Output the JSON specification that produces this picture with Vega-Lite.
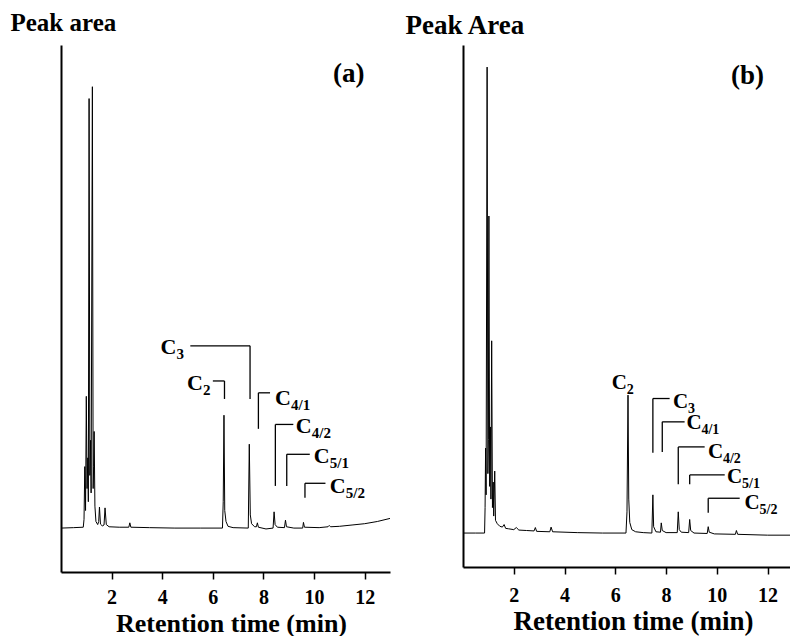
{
  "$schema": "https://vega.github.io/schema/vega-lite/v6.json",
  "background": "white",
  "padding": {"left": 10, "top": 10, "right": 0, "bottom": 0},
  "spacing": 73,
  "bounds": "flush",
  "config": {
    "view": {"stroke": null},
    "axis": {"labelFont": "Liberation Serif", "titleFont": "Liberation Serif", "labelFontWeight": "bold", "titleFontWeight": "bold", "labelColor": "black", "titleColor": "black", "domainColor": "black", "tickColor": "black", "grid": false, "domainWidth": 2, "tickWidth": 1.5},
    "text": {"font": "Liberation Serif", "fontWeight": "bold", "color": "black"}
  },
  "datasets": {
    "traceA": [
      {"t":0,"v":0},{"t":0.5,"v":0.1},{"t":0.88,"v":0.2},{"t":0.91,"v":2},{"t":0.94,"v":14},{"t":0.97,"v":4},{"t":1.0,"v":30},{"t":1.03,"v":9},{"t":1.06,"v":16},{"t":1.08,"v":6},{"t":1.11,"v":97.8},{"t":1.14,"v":12},{"t":1.17,"v":20},{"t":1.19,"v":8},{"t":1.24,"v":100.5},{"t":1.27,"v":9},{"t":1.29,"v":14},{"t":1.31,"v":22},{"t":1.34,"v":5},{"t":1.38,"v":1.5},{"t":1.45,"v":0.8},{"t":1.49,"v":1.5},{"t":1.52,"v":4.8},{"t":1.56,"v":0.9},{"t":1.63,"v":0.5},{"t":1.7,"v":0.7},{"t":1.74,"v":4.6},{"t":1.79,"v":0.8},{"t":1.9,"v":0.3},{"t":2.3,"v":0.2},{"t":2.68,"v":0.2},{"t":2.72,"v":1.2},{"t":2.76,"v":0.2},{"t":3.5,"v":0.1},{"t":4.5,"v":0},{"t":5.5,"v":0},{"t":6.38,"v":0},{"t":6.41,"v":6},{"t":6.44,"v":25.7},{"t":6.47,"v":4},{"t":6.52,"v":1.5},{"t":6.6,"v":0.4},{"t":6.8,"v":0.1},{"t":7.4,"v":0},{"t":7.44,"v":19.1},{"t":7.48,"v":3},{"t":7.53,"v":1},{"t":7.65,"v":0.3},{"t":7.72,"v":0.3},{"t":7.76,"v":1.2},{"t":7.8,"v":0.2},{"t":8.1,"v":-0.2},{"t":8.38,"v":0},{"t":8.42,"v":3.7},{"t":8.46,"v":0.8},{"t":8.55,"v":0.2},{"t":8.83,"v":0.1},{"t":8.87,"v":1.8},{"t":8.91,"v":0.3},{"t":9.2,"v":0},{"t":9.55,"v":0},{"t":9.58,"v":1.3},{"t":9.62,"v":0.2},{"t":10.2,"v":0.1},{"t":10.55,"v":0.3},{"t":10.6,"v":0.6},{"t":10.65,"v":0.3},{"t":11.0,"v":0.4},{"t":11.5,"v":0.7},{"t":12.0,"v":1.0},{"t":12.5,"v":1.5},{"t":13.0,"v":2.2}
    ],
    "traceB": [
      {"t":0,"v":0},{"t":0.5,"v":0},{"t":0.85,"v":0},{"t":0.87,"v":6},{"t":0.89,"v":20},{"t":0.91,"v":9},{"t":0.95,"v":109.8},{"t":0.98,"v":14},{"t":1.0,"v":22},{"t":1.02,"v":74.7},{"t":1.05,"v":11},{"t":1.08,"v":25},{"t":1.1,"v":8},{"t":1.13,"v":45.3},{"t":1.16,"v":6},{"t":1.19,"v":12},{"t":1.21,"v":4},{"t":1.25,"v":14.6},{"t":1.28,"v":3},{"t":1.35,"v":2.2},{"t":1.45,"v":1.6},{"t":1.55,"v":1.4},{"t":1.62,"v":2.0},{"t":1.68,"v":1.1},{"t":1.8,"v":1.0},{"t":2.0,"v":0.8},{"t":2.1,"v":1.3},{"t":2.2,"v":0.7},{"t":2.5,"v":0.6},{"t":2.8,"v":0.5},{"t":2.85,"v":1.3},{"t":2.9,"v":0.4},{"t":3.42,"v":0.3},{"t":3.47,"v":1.4},{"t":3.53,"v":0.3},{"t":4.5,"v":0.1},{"t":5.5,"v":0},{"t":6.42,"v":0},{"t":6.46,"v":5},{"t":6.5,"v":32.5},{"t":6.53,"v":8},{"t":6.57,"v":2.5},{"t":6.65,"v":0.8},{"t":6.8,"v":0.3},{"t":7.1,"v":0.1},{"t":7.44,"v":0},{"t":7.48,"v":9},{"t":7.51,"v":1.5},{"t":7.6,"v":0.3},{"t":7.78,"v":0.2},{"t":7.81,"v":2.4},{"t":7.85,"v":0.6},{"t":8.0,"v":0.1},{"t":8.44,"v":0.1},{"t":8.48,"v":5.0},{"t":8.52,"v":0.8},{"t":8.6,"v":0.2},{"t":8.89,"v":0.1},{"t":8.93,"v":3.2},{"t":8.97,"v":0.6},{"t":9.1,"v":0},{"t":9.62,"v":-0.1},{"t":9.66,"v":1.5},{"t":9.7,"v":0.2},{"t":9.9,"v":-0.2},{"t":10.73,"v":-0.3},{"t":10.77,"v":0.6},{"t":10.82,"v":-0.3},{"t":12,"v":-0.5},{"t":13,"v":-0.5}
    ],
    "bracketsA": [
      {"x1":5.11,"y1":41.5,"x2":7.47,"y2":41.5},{"x1":7.47,"y1":41.5,"x2":7.47,"y2":29.4},
      {"x1":6.0,"y1":33.5,"x2":6.46,"y2":33.5},{"x1":6.46,"y1":33.5,"x2":6.46,"y2":29.4},
      {"x1":7.8,"y1":30.8,"x2":8.26,"y2":30.8},{"x1":7.8,"y1":30.8,"x2":7.8,"y2":22.6},
      {"x1":8.47,"y1":23.6,"x2":9.18,"y2":23.6},{"x1":8.47,"y1":23.6,"x2":8.47,"y2":9.6},
      {"x1":8.92,"y1":16.8,"x2":9.83,"y2":16.8},{"x1":8.92,"y1":16.8,"x2":8.92,"y2":9.6},
      {"x1":9.64,"y1":10.2,"x2":10.45,"y2":10.2},{"x1":9.64,"y1":10.2,"x2":9.64,"y2":6.9}
    ],
    "bracketsB": [
      {"x1":7.48,"y1":31.7,"x2":8.14,"y2":31.7},{"x1":7.48,"y1":31.7,"x2":7.48,"y2":18.9},
      {"x1":7.85,"y1":26.2,"x2":8.73,"y2":26.2},{"x1":7.85,"y1":26.2,"x2":7.85,"y2":19.1},
      {"x1":8.48,"y1":20.3,"x2":9.52,"y2":20.3},{"x1":8.48,"y1":20.3,"x2":8.48,"y2":11.5},
      {"x1":8.93,"y1":13.7,"x2":10.31,"y2":13.7},{"x1":8.93,"y1":13.7,"x2":8.93,"y2":11.5},
      {"x1":9.66,"y1":8.2,"x2":10.9,"y2":8.2},{"x1":9.66,"y1":8.2,"x2":9.66,"y2":4.8}
    ],
    "labelsA": [
      {"x":3.93,"y":39.6,"main":"C","sub":"3"},
      {"x":4.98,"y":31.4,"main":"C","sub":"2"},
      {"x":8.46,"y":28.0,"main":"C","sub":"4/1"},
      {"x":9.28,"y":21.6,"main":"C","sub":"4/2"},
      {"x":9.99,"y":14.9,"main":"C","sub":"5/1"},
      {"x":10.62,"y":8.0,"main":"C","sub":"5/2"}
    ],
    "labelsB": [
      {"x":5.86,"y":34.0,"main":"C","sub":"2"},
      {"x":8.27,"y":29.5,"main":"C","sub":"3"},
      {"x":8.8,"y":24.5,"main":"C","sub":"4/1"},
      {"x":9.65,"y":17.7,"main":"C","sub":"4/2"},
      {"x":10.4,"y":11.8,"main":"C","sub":"5/1"},
      {"x":11.09,"y":5.7,"main":"C","sub":"5/2"}
    ],
    "tagA": [{"x":11.37,"y":101.6,"tag":"(a)"}],
    "tagB": [{"x":11.21,"y":105.8,"tag":"(b)"}]
  },
  "hconcat": [
    {
      "width": 329,
      "height": 527,
      "layer": [
        {
          "data": {"name": "traceA"},
          "mark": {"type": "line", "color": "black", "strokeWidth": 1},
          "encoding": {
            "x": {"field": "t", "type": "quantitative", "scale": {"domain": [0, 13], "nice": false},
              "axis": {"values": [2,4,6,8,10,12], "format": "d", "title": "Retention time (min)", "titleX": 170, "titleY": 59, "titleAlign": "center", "titleBaseline": "alphabetic", "titleFontSize": 26, "labelFontSize": 20, "labelPadding": 24, "labelBaseline": "alphabetic", "tickSize": 7}},
            "y": {"field": "v", "type": "quantitative", "scale": {"domain": [-10, 110], "nice": false, "zero": false},
              "axis": {"title": "Peak area", "titleAngle": 0, "titleX": -51, "titleY": -15, "titleAlign": "left", "titleBaseline": "alphabetic", "titleFontSize": 25, "labels": false, "ticks": false}}
          }
        },
        {
          "data": {"name": "bracketsA"},
          "mark": {"type": "rule", "color": "black", "strokeWidth": 1.3},
          "encoding": {
            "x": {"field": "x1", "type": "quantitative"}, "x2": {"field": "x2"},
            "y": {"field": "y1", "type": "quantitative"}, "y2": {"field": "y2"}
          }
        },
        {
          "data": {"name": "labelsA"},
          "mark": {"type": "text", "align": "left", "baseline": "alphabetic", "fontSize": 22},
          "encoding": {"x": {"field": "x", "type": "quantitative"}, "y": {"field": "y", "type": "quantitative"}, "text": {"field": "main"}}
        },
        {
          "data": {"name": "labelsA"},
          "mark": {"type": "text", "align": "left", "baseline": "alphabetic", "fontSize": 15, "dx": 16, "dy": 5},
          "encoding": {"x": {"field": "x", "type": "quantitative"}, "y": {"field": "y", "type": "quantitative"}, "text": {"field": "sub"}}
        },
        {
          "data": {"name": "tagA"},
          "mark": {"type": "text", "align": "center", "baseline": "alphabetic", "fontSize": 27},
          "encoding": {"x": {"field": "x", "type": "quantitative"}, "y": {"field": "y", "type": "quantitative"}, "text": {"field": "tag"}}
        }
      ]
    },
    {
      "width": 330,
      "height": 522,
      "layer": [
        {
          "data": {"name": "traceB"},
          "mark": {"type": "line", "color": "black", "strokeWidth": 1},
          "encoding": {
            "x": {"field": "t", "type": "quantitative", "scale": {"domain": [0, 13], "nice": false},
              "axis": {"values": [2,4,6,8,10,12], "format": "d", "title": "Retention time (min)", "titleX": 170, "titleY": 62, "titleAlign": "center", "titleBaseline": "alphabetic", "titleFontSize": 27, "labelFontSize": 20, "labelPadding": 27, "labelBaseline": "alphabetic", "tickSize": 7}},
            "y": {"field": "v", "type": "quantitative", "scale": {"domain": [-8, 115], "nice": false, "zero": false},
              "axis": {"title": "Peak Area", "titleAngle": 0, "titleX": -58, "titleY": -12, "titleAlign": "left", "titleBaseline": "alphabetic", "titleFontSize": 27, "labels": false, "ticks": false}}
          }
        },
        {
          "data": {"name": "bracketsB"},
          "mark": {"type": "rule", "color": "black", "strokeWidth": 1.3},
          "encoding": {
            "x": {"field": "x1", "type": "quantitative"}, "x2": {"field": "x2"},
            "y": {"field": "y1", "type": "quantitative"}, "y2": {"field": "y2"}
          }
        },
        {
          "data": {"name": "labelsB"},
          "mark": {"type": "text", "align": "left", "baseline": "alphabetic", "fontSize": 21},
          "encoding": {"x": {"field": "x", "type": "quantitative"}, "y": {"field": "y", "type": "quantitative"}, "text": {"field": "main"}}
        },
        {
          "data": {"name": "labelsB"},
          "mark": {"type": "text", "align": "left", "baseline": "alphabetic", "fontSize": 14, "dx": 15, "dy": 5},
          "encoding": {"x": {"field": "x", "type": "quantitative"}, "y": {"field": "y", "type": "quantitative"}, "text": {"field": "sub"}}
        },
        {
          "data": {"name": "tagB"},
          "mark": {"type": "text", "align": "center", "baseline": "alphabetic", "fontSize": 27},
          "encoding": {"x": {"field": "x", "type": "quantitative"}, "y": {"field": "y", "type": "quantitative"}, "text": {"field": "tag"}}
        }
      ]
    }
  ]
}
